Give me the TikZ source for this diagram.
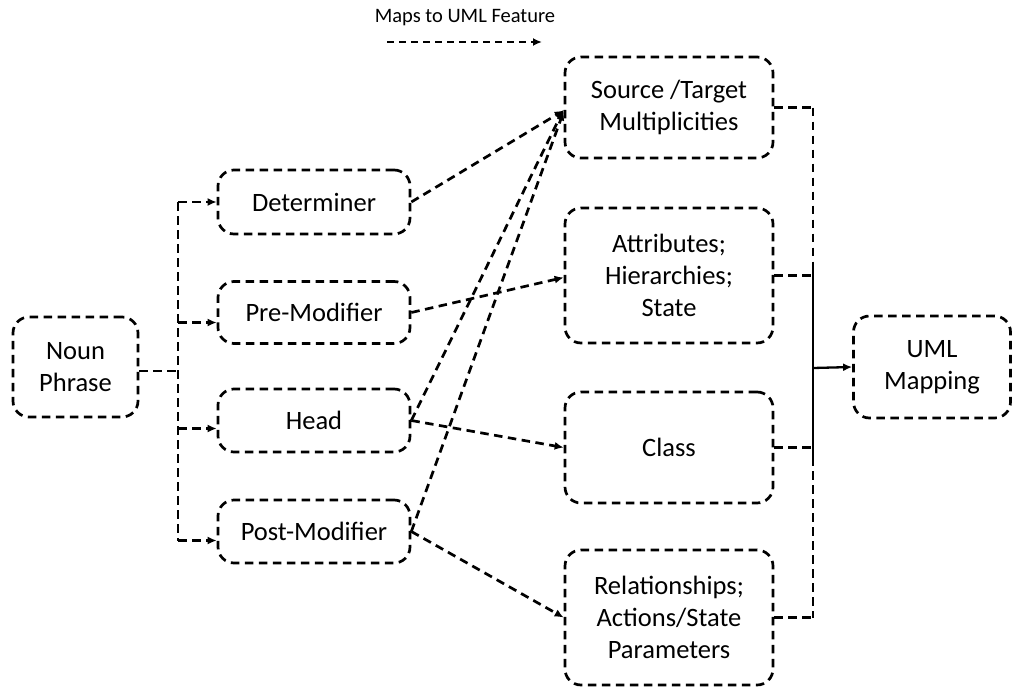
\documentclass[tikz,border=0pt]{standalone}
\usepackage{fontspec}
\setmainfont{Carlito}
\usetikzlibrary{arrows.meta}
\begin{document}
\begin{tikzpicture}[x=1pt,y=-1pt,
  lw/.style={line width=2.7pt},
  dashline/.style={lw, dash pattern=on 8.5pt off 5.5pt},
  box/.style={draw, dashline, rounded corners=16pt, align=center,
    font=\fontsize{26.5}{32}\selectfont, inner sep=0pt},
  tip/.style={-{Latex[length=9pt,width=8pt]}},
]
\useasboundingbox (0,0) rectangle (1012,688);

% legend
\node (leg) at (465,18) [font=\fontsize{20.5}{24}\selectfont] {Maps to UML Feature};
\coordinate (legA) at (387,42);
\coordinate (legB) at (542,42);
\draw[line width=2.3pt, dash pattern=on 7pt off 5pt, tip] (legA) -- (legB);

% noun phrase and its constituents
\node[box, minimum width=125pt, minimum height=100pt] (np) at (75.5,367) {Noun\\Phrase};
\node[box, minimum width=192pt, minimum height=64pt] (det)  at (314,202)   {Determiner};
\node[box, minimum width=192pt, minimum height=62pt] (pre)  at (314,312.5) {Pre-Modifier};
\node[box, minimum width=192pt, minimum height=63pt] (head) at (314,420.5) {Head};
\node[box, minimum width=192pt, minimum height=63pt] (post) at (314,531.5) {Post-Modifier};

% UML features
\node[box, minimum width=208pt, minimum height=101pt] (src)  at (669,107.5) {Source /Target\\Multiplicities};
\node[box, minimum width=208pt, minimum height=135pt] (attr) at (669,275.5) {Attributes;\\Hierarchies;\\State};
\node[box, minimum width=208pt, minimum height=111pt] (cls)  at (669,447.5) {Class};
\node[box, minimum width=208pt, minimum height=135pt] (rel)  at (669,617.5) {Relationships;\\Actions/State\\Parameters};
\node[box, minimum width=157pt, minimum height=102pt] (uml)  at (932,367) {UML\\Mapping};

% fan-out from the noun phrase
\coordinate (busL) at (178,371);
\coordinate (tDet)  at (det.west);
\coordinate (tPre)  at ([yshift=-10pt]pre.west);
\coordinate (tHead) at ([yshift=-8pt]head.west);
\coordinate (tPost) at ([yshift=-9pt]post.west);
\draw[dashline] ([yshift=-4pt]np.east) -- (busL);
\draw[dashline] (busL |- tDet) -- (busL |- tPost);
\foreach \t in {tDet,tPre,tHead,tPost}
  \draw[dashline, tip] (busL |- \t) -- (\t);

% constituent to feature mappings
\draw[dashline, tip] (det.east)  -- ([yshift=-3pt]src.west);
\draw[dashline, tip] (pre.east)  -- ([yshift=-2pt]attr.west);
\draw[dashline, tip] (head.east) -- ([yshift=-2pt]src.west);
\draw[dashline, tip] (post.east) -- ([yshift=-4pt]src.west);
\draw[dashline, tip] (head.east) -- (cls.west);
\draw[dashline, tip] (post.east) -- (rel.west);

% collecting bus into the UML mapping
\coordinate (busR) at (813,368);
\coordinate (sA) at (813,267);
\coordinate (sB) at (813,457);
\foreach \n in {src,attr,cls,rel}
  \draw[dashline] (\n.east) -- (busR |- \n.east);
\draw[dashline] (busR |- src.east) -- (sA);
\draw[lw] (sA) -- (sB);
\draw[dashline] (sB) -- (busR |- rel.east);
\draw[line width=2.3pt, tip] (busR) -- (uml.west);
\end{tikzpicture}
\end{document}
